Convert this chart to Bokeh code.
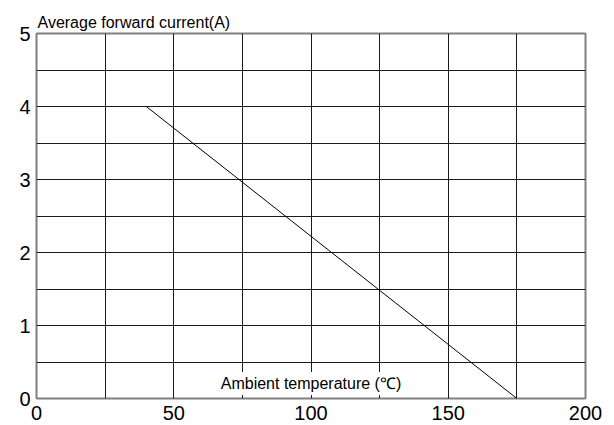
from bokeh.plotting import figure
from bokeh.models import Range1d, FixedTicker, Label
from bokeh.embed import file_html
from bokeh.resources import INLINE

# data
temperature = [40, 175]
current = [4, 0]
x_grid = [0, 25, 50, 75, 100, 125, 150, 175, 200]
y_grid = [0, 0.5, 1, 1.5, 2, 2.5, 3, 3.5, 4, 4.5, 5]
x_ticks = [0, 50, 100, 150, 200]
x_tick_labels = ["0", "50", "100", "150", "200"]
y_ticks = [0, 1, 2, 3, 4, 5]
y_tick_labels = ["0", "1", "2", "3", "4", "5"]
x_title = "Ambient temperature (℃)"
y_title = "Average forward current(A)"

FONT = "Liberation Sans"

p = figure(width=614, height=425, output_backend="svg", toolbar_location=None,
           x_range=Range1d(0, 200), y_range=Range1d(0, 5),
           min_border_left=36, min_border_right=29, min_border_top=33, min_border_bottom=27)

p.title.text = y_title
p.title.align = "left"
p.title.offset = 1
p.title.standoff = 6
p.title.text_font = FONT
p.title.text_font_size = "16px"
p.title.text_font_style = "normal"
p.title.text_color = "black"

p.xaxis.ticker = FixedTicker(ticks=x_ticks)
p.xaxis.major_label_overrides = {t: s for t, s in zip(x_ticks, x_tick_labels)}
p.yaxis.ticker = FixedTicker(ticks=y_ticks)
p.yaxis.major_label_overrides = {t: s for t, s in zip(y_ticks, y_tick_labels)}
for ax in (p.xaxis, p.yaxis):
    ax.axis_line_color = None
    ax.major_tick_line_color = None
    ax.minor_tick_line_color = None
    ax.major_tick_out = 0
    ax.major_tick_in = 0
    ax.major_label_text_font = FONT
    ax.major_label_text_font_size = "20px"
    ax.major_label_text_color = "black"
p.xaxis.major_label_standoff = 7
p.yaxis.major_label_standoff = 6

p.xgrid.ticker = FixedTicker(ticks=x_grid)
p.ygrid.ticker = FixedTicker(ticks=y_grid)
p.grid.grid_line_color = "#1a1a1a"
p.grid.grid_line_width = 1
p.outline_line_color = "#808080"
p.outline_line_width = 2
p.background_fill_color = "white"
p.border_fill_color = "white"

p.line(temperature, current, line_color="black", line_width=1)

p.add_layout(Label(x=100, y=0, text=x_title, y_offset=15,
                   text_align="center", text_baseline="middle",
                   text_font=FONT, text_font_size="16px", text_color="black",
                   background_fill_color="white", padding=3))

open("out.html", "w").write(file_html(p, INLINE))
